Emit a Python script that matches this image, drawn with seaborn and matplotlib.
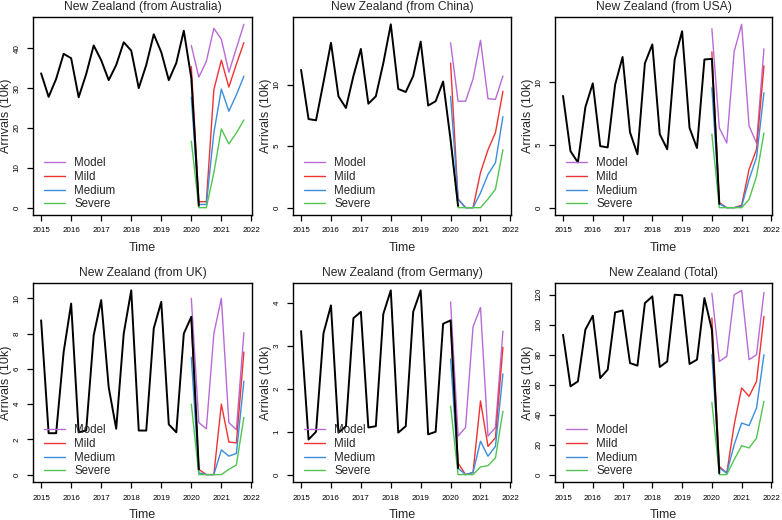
import numpy as np
import matplotlib
matplotlib.use("Agg")
import matplotlib.pyplot as plt
import seaborn as sns

# quarterly time axis
hist_time = np.arange(2015, 2020.5, 0.25)   # 2015 Q1 .. 2020 Q2 (observed)
fc_time = np.arange(2020, 2022, 0.25)       # 2020 Q1 .. 2021 Q4 (scenarios)

titles = ["New Zealand (from Australia)", "New Zealand (from China)", "New Zealand (from USA)",
          "New Zealand (from UK)", "New Zealand (from Germany)", "New Zealand (Total)"]

# observed arrivals (10k)
hist_aus = [33.7, 27.8, 32.3, 38.6, 37.5, 27.7, 33.5, 40.7, 37.0, 32.0, 35.8, 41.5,
            39.4, 30.0, 35.8, 43.5, 39.0, 32.0, 36.3, 44.4, 32.5, 0.5]
hist_chn = [11.2, 7.2, 7.1, 10.2, 13.4, 9.05, 8.1, 10.7, 12.9, 8.45, 9.05, 11.75,
            14.9, 9.65, 9.4, 10.7, 13.5, 8.3, 8.65, 10.25, 5.5, 0.15]
hist_usa = [8.9, 4.5, 3.6, 8.0, 9.9, 4.9, 4.8, 9.8, 12.0, 6.0, 4.25, 11.5,
            13.0, 5.85, 4.65, 11.8, 14.05, 6.35, 4.75, 11.8, 11.85, 0.3]
hist_uk = [8.75, 2.35, 2.35, 6.95, 9.7, 2.4, 2.5, 7.9, 9.9, 4.95, 2.6, 8.0,
           10.45, 2.5, 2.5, 8.3, 9.8, 2.85, 2.4, 8.0, 8.95, 0.3]
hist_ger = [3.35, 0.82, 1.0, 3.3, 3.95, 0.98, 1.13, 3.65, 3.8, 1.1, 1.13, 3.75,
            4.3, 0.98, 1.13, 3.8, 4.3, 0.94, 1.0, 3.52, 3.6, 0.15]
hist_tot = [93.3, 58.9, 62.2, 96.7, 106.0, 64.4, 70.0, 108.2, 109.5, 74.4, 72.7, 114.4,
            118.9, 71.8, 75.5, 120.0, 119.6, 73.8, 76.7, 117.8, 96.7, 1.0]

# scenario forecasts (10k)
model_aus = [40.7, 32.75, 36.7, 45.0, 42.25, 34.0, 40.0, 46.0]
mild_aus = [35.4, 1.5, 1.5, 29.6, 37.0, 30.25, 36.0, 41.4]
medium_aus = [27.75, 0.8, 0.8, 18.75, 29.75, 24.2, 28.3, 33.0]
severe_aus = [16.7, 0.0, 0.0, 8.75, 19.75, 16.0, 18.75, 22.0]

model_chn = [13.4, 8.65, 8.65, 10.45, 13.6, 8.85, 8.8, 10.7]
mild_chn = [11.75, 0.7, 0.0, 0.0, 2.85, 4.7, 6.1, 9.45]
medium_chn = [9.05, 0.7, 0.0, 0.0, 1.2, 2.7, 3.65, 7.4]
severe_chn = [5.5, 0.0, 0.0, 0.0, 0.0, 0.7, 1.5, 4.7]

model_usa = [14.25, 6.35, 5.15, 12.45, 14.6, 6.5, 5.15, 12.65]
mild_usa = [12.4, 0.4, 0.0, 0.0, 0.2, 3.05, 4.65, 11.3]
medium_usa = [9.55, 0.3, 0.0, 0.0, 0.1, 2.25, 4.0, 9.15]
severe_usa = [5.85, 0.0, 0.0, 0.0, 0.0, 0.65, 2.5, 5.95]

model_uk = [10.0, 2.95, 2.6, 8.0, 10.0, 2.95, 2.55, 8.05]
mild_uk = [8.65, 0.3, 0.0, 0.0, 4.0, 1.85, 1.8, 6.95]
medium_uk = [6.65, 0.1, 0.0, 0.0, 1.4, 1.05, 1.2, 5.3]
severe_uk = [4.0, 0.0, 0.0, 0.0, 0.0, 0.3, 0.55, 3.25]

model_ger = [4.03, 0.9, 1.1, 3.45, 3.9, 0.9, 1.1, 3.35]
mild_ger = [3.55, 0.27, 0.0, 0.05, 1.72, 0.66, 0.86, 2.97]
medium_ger = [2.7, 0.15, 0.0, 0.05, 0.78, 0.43, 0.66, 2.35]
severe_ger = [1.6, 0.0, 0.0, 0.0, 0.18, 0.21, 0.39, 1.48]

model_tot = [121.0, 75.5, 78.9, 120.0, 122.9, 76.7, 80.0, 121.5]
mild_tot = [104.4, 5.5, 1.0, 33.3, 57.8, 52.2, 62.2, 105.5]
medium_tot = [80.0, 4.4, 1.0, 20.0, 34.4, 32.7, 44.4, 80.0]
severe_tot = [48.2, 0.0, 0.0, 10.0, 19.3, 17.8, 24.4, 48.9]

y_steps = [10, 5, 5, 2, 1, 20]

hist = [hist_aus, hist_chn, hist_usa, hist_uk, hist_ger, hist_tot]
scen = [
    [model_aus, mild_aus, medium_aus, severe_aus],
    [model_chn, mild_chn, medium_chn, severe_chn],
    [model_usa, mild_usa, medium_usa, severe_usa],
    [model_uk, mild_uk, medium_uk, severe_uk],
    [model_ger, mild_ger, medium_ger, severe_ger],
    [model_tot, mild_tot, medium_tot, severe_tot],
]
scen_names = ["Model", "Mild", "Medium", "Severe"]
scen_colors = ["#B86BD6", "#EE3333", "#3A8EDD", "#52C452"]

sns.set_theme(style="ticks")
plt.rcParams['font.family'] = ['Liberation Sans', 'DejaVu Sans']

fig = plt.figure(figsize=(7.82, 5.2), dpi=100)
W, H = 782, 520
col_lr = [(33, 252), (293, 511), (555, 772)]
row_tb = [(17, 215), (283, 482)]

for i in range(6):
    r, c = divmod(i, 3)
    l, rr = col_lr[c]
    t, b = row_tb[r]
    ax = fig.add_axes([l / W, 1 - b / H, (rr - l) / W, (b - t) / H])

    for name, col, vals in zip(scen_names, scen_colors, scen[i]):
        sns.lineplot(x=fc_time, y=vals, ax=ax, color=col, lw=1.0, label=name)
    sns.lineplot(x=hist_time, y=hist[i], ax=ax, color="black", lw=1.4, zorder=5)

    # R-style axis limits (4% padding)
    allv = np.concatenate([hist[i]] + [np.asarray(v) for v in scen[i]])
    ymin, ymax = allv.min(), allv.max()
    pad = 0.04 * (ymax - ymin)
    ax.set_ylim(ymin - pad, ymax + pad)
    ax.set_xlim(2015 - 0.04 * 6.75, 2021.75 + 0.04 * 6.75)
    ax.set_xticks(range(2015, 2023))
    yt = np.arange(0, ymax + 0.01, y_steps[i])
    ax.set_yticks(yt)
    ax.set_yticklabels([f"{v:g}" for v in yt])

    for s in ax.spines.values():
        s.set_color("black")
        s.set_linewidth(1.0)
    ax.tick_params(axis="both", labelsize=5.8, length=4, width=0.9, pad=5, colors="black")
    for lab in ax.get_yticklabels():
        lab.set_rotation(90)
        lab.set_va("center")

    ax.set_title(titles[i], fontsize=8.7, pad=5)
    ax.set_xlabel("Time", fontsize=9)
    ax.set_ylabel("Arrivals (10k)", fontsize=9)
    ax.xaxis.set_label_coords(0.5, -0.135)
    ax.yaxis.set_label_coords(-0.095, 0.5)

    ax.legend(loc="lower left", frameon=False, fontsize=8.3, handlelength=1.8,
              handletextpad=0.8, labelspacing=0.15, borderaxespad=0.25,
              bbox_to_anchor=(0.018, -0.015))

fig.savefig("out.png", dpi=100)
